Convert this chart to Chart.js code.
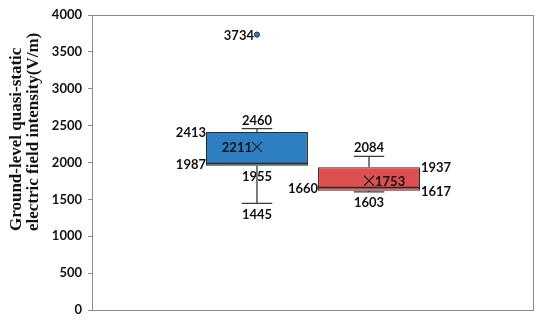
<!DOCTYPE html>
<html>
<head>
<meta charset="utf-8">
<script src="https://cdn.jsdelivr.net/npm/chart.js@4/dist/chart.umd.min.js"></script>
<style>
  html, body { margin: 0; padding: 0; background: #fff; }
  #wrap { width: 550px; height: 324px; }
</style>
</head>
<body>
<div id="wrap"><canvas id="c" width="550" height="324"></canvas></div>
<script>
// ---- data ----
const categories = [''];
const seriesNames = ['Series 1', 'Series 2'];
const whiskerMin = [1445, 1603];
const q1Values = [1955, 1617];
const medianValues = [1987, 1660];
const q3Values = [2413, 1937];
const whiskerMax = [2460, 2084];
const meanValues = [2211, 1753];
const outlierValues = [[3734], []];
const yMin = 0, yMax = 4000, yStep = 500;
const axisTitleLines = ['Ground-level quasi-static', 'electric field intensity(V/m)'];

// ---- styles ----
const fillColors = ['#2E7EC2', '#DE5050'];
const edgeColor = '#2b2b2b';
const labelFont = 'bold 13px Lato, "Open Sans", sans-serif';
// label side per series (Excel-like placement)
const labelSides = [
  { max: 'above', q3: 'left', median: 'left', q1: 'below', min: 'below', mean: 'left' },
  { max: 'above', q3: 'right', median: 'left', q1: 'right', min: 'below', mean: 'right' }
];

const boxPlugin = {
  id: 'boxExtras',
  afterDatasetsDraw(chart) {
    const ctx = chart.ctx;
    const y = chart.scales.y;
    const area = chart.chartArea;
    ctx.save();
    seriesNames.forEach((name, i) => {
      const meta = chart.getDatasetMeta(i);
      const bar = meta.data[0];
      const cx = bar.x;
      const half = bar.width / 2;
      const left = cx - half, right = cx + half;
      const capHalf = bar.width * 0.15;
      const pMax = y.getPixelForValue(whiskerMax[i]);
      const pMin = y.getPixelForValue(whiskerMin[i]);
      const pQ3 = y.getPixelForValue(q3Values[i]);
      const pQ1 = y.getPixelForValue(q1Values[i]);
      const pMed = y.getPixelForValue(medianValues[i]);
      const pMean = y.getPixelForValue(meanValues[i]);

      ctx.strokeStyle = '#3a3a3a';
      ctx.lineWidth = 1.3;
      ctx.beginPath();
      ctx.moveTo(cx, pQ3); ctx.lineTo(cx, pMax);
      ctx.moveTo(cx - capHalf, pMax); ctx.lineTo(cx + capHalf, pMax);
      ctx.moveTo(cx, pQ1); ctx.lineTo(cx, pMin);
      ctx.moveTo(cx - capHalf, pMin); ctx.lineTo(cx + capHalf, pMin);
      ctx.stroke();

      // median
      ctx.strokeStyle = edgeColor;
      ctx.lineWidth = 1.5;
      ctx.beginPath();
      ctx.moveTo(left, pMed); ctx.lineTo(right, pMed);
      ctx.stroke();

      // mean X
      const s = 5;
      ctx.lineWidth = 1.2;
      ctx.strokeStyle = '#222';
      ctx.beginPath();
      ctx.moveTo(cx - s, pMean - s); ctx.lineTo(cx + s, pMean + s);
      ctx.moveTo(cx + s, pMean - s); ctx.lineTo(cx - s, pMean + s);
      ctx.stroke();

      // outliers
      outlierValues[i].forEach(v => {
        const py = y.getPixelForValue(v);
        ctx.beginPath();
        ctx.arc(cx, py, 2.6, 0, Math.PI * 2);
        ctx.fillStyle = fillColors[i];
        ctx.fill();
        ctx.lineWidth = 1;
        ctx.strokeStyle = '#333';
        ctx.stroke();
        ctx.fillStyle = '#111';
        ctx.font = labelFont;
        ctx.textAlign = 'right';
        ctx.textBaseline = 'middle';
        ctx.fillText(String(v), cx - 3, py + 1);
      });

      // value labels
      ctx.fillStyle = '#111';
      ctx.font = labelFont;
      const sides = labelSides[i];
      const put = (val, py, side, anchorX) => {
        let tx = cx, ty = py + 1;
        ctx.textBaseline = 'middle';
        if (side === 'above') { ctx.textAlign = 'center'; ty = py - 8; }
        else if (side === 'below') { ctx.textAlign = 'center'; ty = py + 11; }
        else if (side === 'left') { ctx.textAlign = 'right'; tx = anchorX !== undefined ? anchorX : left; }
        else { ctx.textAlign = 'left'; tx = anchorX !== undefined ? anchorX : right + 1; }
        ctx.fillText(String(val), tx, ty);
      };
      put(whiskerMax[i], pMax, sides.max);
      put(q3Values[i], pQ3, sides.q3);
      put(medianValues[i], pMed, sides.median);
      put(q1Values[i], pQ1, sides.q1);
      put(whiskerMin[i], pMin, sides.min);
      put(meanValues[i], pMean, sides.mean, sides.mean === 'left' ? cx - 5 : cx + 6);
    });

    // frame
    ctx.strokeStyle = '#8a8a8a';
    ctx.lineWidth = 1;
    ctx.strokeRect(Math.round(area.left) + 0.5, Math.round(area.top) + 0.5,
      Math.round(area.right - area.left) - 1, Math.round(area.bottom - area.top));

    // axis title
    ctx.save();
    ctx.fillStyle = '#111';
    ctx.font = 'bold 17px "Liberation Serif", "Times New Roman", serif';
    ctx.textAlign = 'left';
    ctx.textBaseline = 'middle';
    const startY = 231;
    [17, 34].forEach((lx, k) => {
      ctx.save();
      ctx.translate(lx, startY);
      ctx.rotate(-Math.PI / 2);
      ctx.fillText(axisTitleLines[k], 0, 0);
      ctx.restore();
    });
    ctx.restore();
    ctx.restore();
  }
};

new Chart(document.getElementById('c'), {
  type: 'bar',
  data: {
    labels: categories,
    datasets: seriesNames.map((n, i) => ({
      label: n,
      data: [[q1Values[i], q3Values[i]]],
      backgroundColor: fillColors[i],
      borderColor: edgeColor,
      borderWidth: 1,
      borderSkipped: false,
      categoryPercentage: 0.507,
      barPercentage: 0.91
    }))
  },
  options: {
    responsive: false,
    animation: false,
    layout: { padding: { left: 0, right: 16, top: 15, bottom: 14 } },
    plugins: { legend: { display: false }, tooltip: { enabled: false } },
    scales: {
      x: { display: false },
      y: {
        min: yMin, max: yMax,
        ticks: { stepSize: yStep, color: '#111', padding: 6,
          callback: (v) => String(v),
          font: { family: 'Lato, "Open Sans", sans-serif', size: 13, weight: 'bold' } },
        grid: { display: true, drawOnChartArea: false, drawTicks: true, tickLength: 4, color: '#8a8a8a' },
        border: { display: false },
        afterFit(scale) { scale.width = 92; }
      }
    }
  },
  plugins: [boxPlugin]
});
</script>
</body>
</html>
